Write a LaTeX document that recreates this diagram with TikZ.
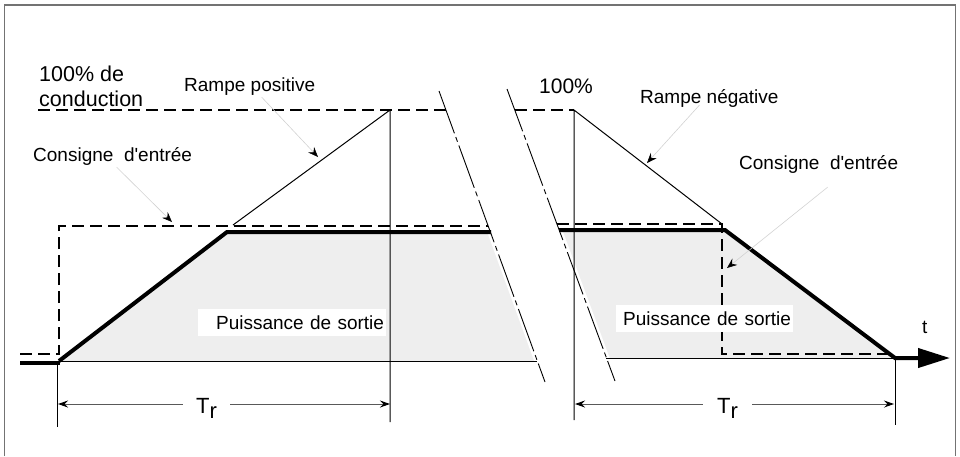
\documentclass[tikz,border=0pt]{standalone}
\usepackage{fontspec}
\setmainfont{Liberation Sans}
\usetikzlibrary{arrows.meta,calc}

\begin{document}
\begin{tikzpicture}[
    x=1pt, y=-1pt,
    font=\fontsize{19}{22}\selectfont,
    frame/.style={black!55, line width=1.6pt},
    shade/.style={fill=gray!13},
    fine/.style={line width=1pt},
    heavy/.style={line width=4pt},
    setpt/.style={line width=2pt, dash pattern=on 12pt off 6pt},
    brk/.style={line width=0.9pt, dash pattern=on 45pt off 4pt on 5pt off 4pt},
    brkgap/.style={white, line width=6pt},
    lead/.style={gray!35, line width=0.6pt,
                 -{Stealth[color=black, length=10pt, width=8pt, inset=3.5pt]}},
    dim/.style={black!65, line width=1pt,
                -{Stealth[color=black, length=10pt, width=7pt, inset=3.5pt]}},
    lbl/.style={inner sep=0pt, anchor=base west},
    pbox/.style={fill=white, inner xsep=2pt, inner ysep=0pt,
                 minimum height=27pt, align=right},
    trlbl/.style={fill=white, inner ysep=0pt, anchor=base,
                  font=\fontsize{22}{24}\selectfont},
]
\useasboundingbox (0,0) rectangle (960,456);
\draw[frame] (4.5,456) -- (4.5,5) -- (955.5,5) -- (955.5,456);

% output power (grey areas)
\fill[shade] (60,361) -- (227,232) -- (491,232) -- (537,361) -- cycle;
\fill[shade] (559,230) -- (725,230) -- (895,358) -- (606,358) -- cycle;

% gaps along the break lines
\draw[brkgap] (439,91) -- (545,382);
\draw[brkgap] (507,89) -- (615,381);

% time axis
\draw[fine] (60,361) -- (537,361);
\draw[fine] (606,358) -- (895,358);

% 100% levels and input set point (dashed)
\draw[setpt] (38,110) -- (446,110);
\draw[setpt] (515,110) -- (574,110);
\draw[setpt] (20,354) -- (59,354) -- (59,226) -- (488,226);
\draw[setpt] (557,224) -- (722,224) -- (722,354) -- (888,354);

% ramps up to 100%
\draw[fine] (233,225) -- (390,110) -- (390,422);
\draw[fine] (722,224) -- (574,110) -- (574,420);

% output power (thick)
\draw[heavy] (20,363) -- (60,363);
\draw[heavy] (59,361) -- (227,232) -- (491,232);
\draw[heavy, -{Triangle[length=32pt, width=19pt]}]
    (559,230) -- (725,230) -- (895,358) -- (950,358);

% break lines
\draw[brk] (439,91) -- (545,382);
\draw[brk] (507,89) -- (615,381);

% text
\node[lbl, font=\fontsize{21.5}{24}\selectfont] (pct) at (39,81) {100\% de};
\node[lbl, font=\fontsize{21.5}{24}\selectfont] (cond) at (39,106) {conduction};
\node[lbl] (rpos) at (184,91) {Rampe positive};
\node[lbl] (cons1) at (33,161) {Consigne\ \ d\textquotesingle entrée};
\node[lbl, font=\fontsize{21}{24}\selectfont] (p100) at (539,93) {100\%};
\node[lbl] (rneg) at (640,103) {Rampe négative};
\node[lbl] (cons2) at (739,169) {Consigne\ \ d\textquotesingle entrée};
\node[pbox, text width=184pt] (pl) at (292,322.5) {Puissance de sortie};
\node[pbox, text width=173pt] (pr) at (704.5,318.5) {Puissance de sortie};
\node[lbl] (t) at (922,333) {t};

% pointers
\coordinate (rp) at (318,157);
\coordinate (c1) at (172,222);
\coordinate (rn) at (647,163);
\coordinate (c2) at (727,268);
\draw[lead] ($(rpos.south)+(12,2)$) -- (rp);
\draw[lead] ($(cons1.south)+(4,2)$) -- (c1);
\draw[lead] ($(rneg.south)+(-10,-2)$) -- (rn);
\draw[lead] ($(cons2.south)+(9,14)$) -- (c2);

% ramp times
\draw[fine] (57,363) -- (57,427);
\draw[fine] (895,358) -- (895,425);
\coordinate (a1) at (58,404);
\coordinate (a2) at (390,404);
\coordinate (a3) at (575,404);
\coordinate (a4) at (894,404);
\node[trlbl, inner xsep=13pt] (trl) at (206.5,413) {T\raisebox{-5pt}{r}};
\node[trlbl, inner xsep=14pt] (trr) at (727.5,413) {T\raisebox{-5pt}{r}};
\draw[dim] (trl.west |- a1) -- (a1);
\draw[dim] (trl.east |- a2) -- (a2);
\draw[dim] (trr.west |- a3) -- (a3);
\draw[dim] (trr.east |- a4) -- (a4);
\end{tikzpicture}
\end{document}
